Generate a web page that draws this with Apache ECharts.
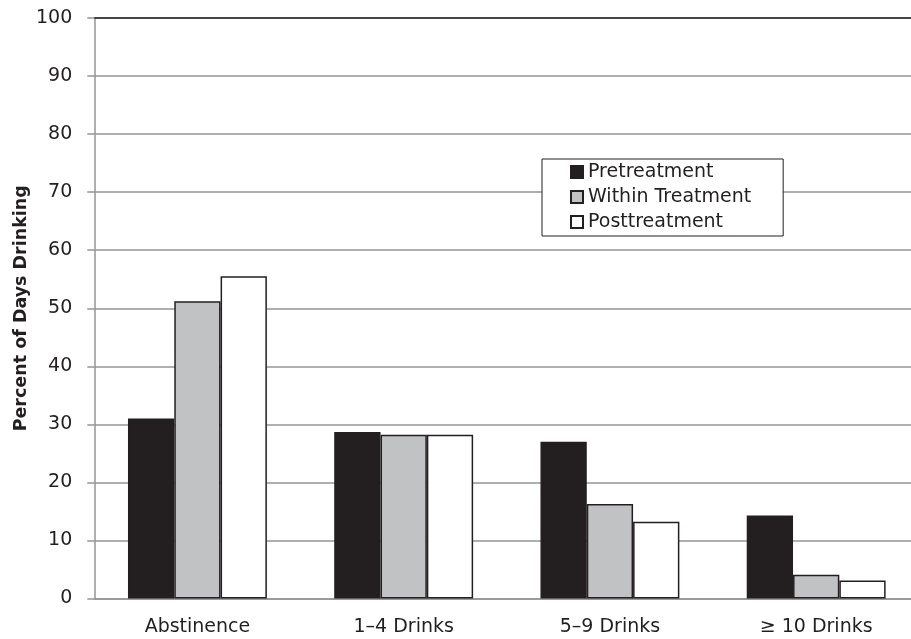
<!DOCTYPE html>
<html>
<head>
<meta charset="utf-8">
<script src="https://cdn.jsdelivr.net/npm/echarts@6/dist/echarts.min.js"></script>
<style>
  html, body { margin: 0; padding: 0; background: #ffffff; }
  #chart { width: 911px; height: 639px; }
</style>
</head>
<body>
<div id="chart"></div>
<script>
// Drinking categories and percent of days in each, by treatment phase
const categories = ['Abstinence', '1–4 Drinks', '5–9 Drinks', '≥ 10 Drinks'];
const pretreatment = [31, 28.7, 27, 14.3];
const withinTreatment = [51.2, 28.2, 16.3, 4.1];
const posttreatment = [55.5, 28.2, 13.2, 3.1];
const yTicks = [0, 10, 20, 30, 40, 50, 60, 70, 80, 90, 100];

const ink = '#231f20';
const rule = '#939598';
const font = 'DejaVu Sans';

const chart = echarts.init(document.getElementById('chart'), null, { renderer: 'canvas' });

function barSeries(name, data, fill) {
  return {
    name: name,
    type: 'bar',
    data: data,
    barWidth: 46.3,
    barGap: '0%',
    itemStyle: { color: fill, borderColor: ink, borderWidth: 1.5 },
    emphasis: { disabled: true }
  };
}

const series = [
  barSeries('Pretreatment', pretreatment, ink),
  barSeries('Within Treatment', withinTreatment, '#c1c2c4'),
  barSeries('Posttreatment', posttreatment, '#ffffff')
];

// dark frame line along the top of the value range
series[0].markLine = {
  silent: true,
  symbol: 'none',
  label: { show: false },
  lineStyle: { color: ink, width: 1.5, type: 'solid' },
  data: [{ yAxis: yTicks[yTicks.length - 1] }]
};

chart.setOption({
  animation: false,
  backgroundColor: '#ffffff',
  textStyle: { fontFamily: font, color: ink },
  grid: {
    left: 94.3, top: 18, width: 825, bottom: 40.5,
    containLabel: false,
    outerBoundsMode: 'none'
  },
  legend: {
    orient: 'vertical',
    left: 542,
    top: 159,
    padding: [3, 32, 4, 28],
    itemWidth: 12,
    itemHeight: 12,
    itemGap: 5,
    icon: 'rect',
    borderColor: ink,
    borderWidth: 1,
    backgroundColor: '#ffffff',
    textStyle: { fontFamily: font, fontSize: 19, color: ink, lineHeight: 20 },
    data: ['Pretreatment', 'Within Treatment', 'Posttreatment']
  },
  xAxis: {
    type: 'category',
    data: categories,
    boundaryGap: true,
    axisLine: { show: true, lineStyle: { color: rule, width: 1.5 } },
    axisTick: { show: false },
    axisLabel: { fontFamily: font, fontSize: 19, color: ink, margin: 19 },
    splitLine: { show: false }
  },
  yAxis: {
    type: 'value',
    min: yTicks[0],
    max: yTicks[yTicks.length - 1],
    interval: 10,
    name: 'Percent of Days Drinking',
    nameLocation: 'middle',
    nameRotate: 90,
    nameGap: 64,
    nameMoveOverlap: false,
    nameTextStyle: { fontFamily: font, fontWeight: 'bold', fontSize: 17.5, color: ink },
    axisLine: { show: true, lineStyle: { color: rule, width: 1.5 } },
    axisTick: { show: true, length: 7, inside: false, lineStyle: { color: rule, width: 1.5 } },
    axisLabel: { fontFamily: font, fontSize: 19, color: ink, margin: 22 },
    splitLine: { show: true, lineStyle: { color: rule, width: 1.5 } }
  },
  series: series
});
</script>
</body>
</html>
